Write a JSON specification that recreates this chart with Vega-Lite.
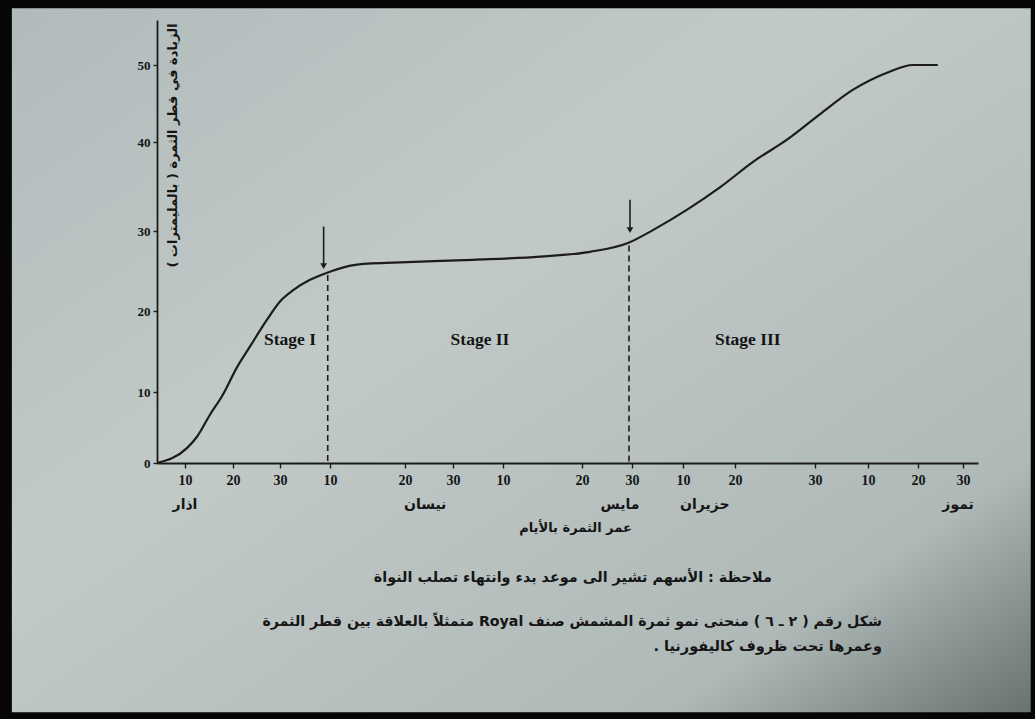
{
  "$schema": "https://vega.github.io/schema/vega-lite/v6.json",
  "width": 821,
  "height": 443,
  "autosize": {"type": "none"},
  "padding": {"left": 157, "top": 20, "right": 57, "bottom": 256},
  "background": "#060606",
  "view": {"stroke": null},
  "datasets": {
    "curve": [
      {"day": 4, "diameter": 0},
      {"day": 10.4, "diameter": 2.1},
      {"day": 12.5, "diameter": 3.7},
      {"day": 15.2, "diameter": 6.8},
      {"day": 17.7, "diameter": 9.4},
      {"day": 20.9, "diameter": 13.1},
      {"day": 23.6, "diameter": 15.6},
      {"day": 27.2, "diameter": 18.9},
      {"day": 30, "diameter": 21.2},
      {"day": 32.9, "diameter": 22.6},
      {"day": 36.6, "diameter": 23.9},
      {"day": 39.5, "diameter": 24.6},
      {"day": 44.6, "diameter": 25.8},
      {"day": 51.4, "diameter": 26.1},
      {"day": 65, "diameter": 26.4},
      {"day": 75.7, "diameter": 26.8},
      {"day": 82.6, "diameter": 27.4},
      {"day": 90.2, "diameter": 28.5},
      {"day": 95.5, "diameter": 30.1},
      {"day": 102.8, "diameter": 32.4},
      {"day": 109.1, "diameter": 34.9},
      {"day": 114.3, "diameter": 37.8},
      {"day": 118.5, "diameter": 40.3},
      {"day": 122.9, "diameter": 43.6},
      {"day": 129.2, "diameter": 46.8},
      {"day": 135.8, "diameter": 49.0},
      {"day": 141, "diameter": 50},
      {"day": 146.4, "diameter": 50}
    ],
    "boundaries": [
      {"day": 40.5, "top": 24.5},
      {"day": 90.4, "top": 28.2}
    ],
    "arrows": [
      {"day": 39.6, "from": 30.5, "to": 25.6},
      {"day": 90.6, "from": 33.5, "to": 30.1}
    ],
    "stages": [
      {"day": 32.2, "stage": "Stage I"},
      {"day": 66.4, "stage": "Stage II"},
      {"day": 113.6, "stage": "Stage III"}
    ],
    "months": [
      {"day": 10, "month": "اذار"},
      {"day": 55.2, "month": "نيسان"},
      {"day": 88.6, "month": "مايس"},
      {"day": 106.2, "month": "حزيران"},
      {"day": 150.9, "month": "تموز"}
    ]
  },
  "layer": [
    {
      "data": {"values": [{"sheet": "paper", "left": -27.1, "right": 166.9, "top": 57.3, "bottom": -35.1}]},
      "mark": {"type": "rect", "color": {
          "gradient": "linear",
          "x1": 0, "y1": 0, "x2": 1, "y2": 1,
          "stops": [
            {"offset": 0, "color": "#b1bbbb"},
            {"offset": 0.4, "color": "#c2cac8"},
            {"offset": 0.82, "color": "#afb9b8"},
            {"offset": 1, "color": "#68736f"}
          ]
        }},
      "encoding": {
        "x": {"field": "left", "type": "quantitative",
              "scale": {"domain": [4,10,20,30,41,51,61,71,81,91,102,112,122,132,142,152,155.3], "range": [0,28,76,123,173,248,296,346,425,475,526,578,658,711,761,806,821], "nice": false, "zero": false}},
        "x2": {"field": "right"},
        "y": {"field": "top", "type": "quantitative",
              "scale": {"domain": [0,10,20,30,40,50,55.8], "range": [443,372,291,211,122,45,0], "nice": false, "zero": false}},
        "y2": {"field": "bottom"}
      }
    },
    {
      "data": {"name": "boundaries"},
      "mark": {"type": "rule", "color": "#1c1c1c", "strokeWidth": 1.6, "strokeDash": [6, 4]},
      "encoding": {
        "x": {"field": "day", "type": "quantitative",
              "scale": {"domain": [4,10,20,30,41,51,61,71,81,91,102,112,122,132,142,152,155.3], "range": [0,28,76,123,173,248,296,346,425,475,526,578,658,711,761,806,821], "nice": false, "zero": false}},
        "y": {"field": "top", "type": "quantitative",
              "scale": {"domain": [0,10,20,30,40,50,55.8], "range": [443,372,291,211,122,45,0], "nice": false, "zero": false}},
        "y2": {"datum": 0}
      }
    },
    {
      "data": {"name": "arrows"},
      "mark": {"type": "rule", "color": "#1c1c1c", "strokeWidth": 1.6},
      "encoding": {
        "x": {"field": "day", "type": "quantitative",
              "scale": {"domain": [4,10,20,30,41,51,61,71,81,91,102,112,122,132,142,152,155.3], "range": [0,28,76,123,173,248,296,346,425,475,526,578,658,711,761,806,821], "nice": false, "zero": false}},
        "y": {"field": "from", "type": "quantitative",
              "scale": {"domain": [0,10,20,30,40,50,55.8], "range": [443,372,291,211,122,45,0], "nice": false, "zero": false}},
        "y2": {"field": "to"}
      }
    },
    {
      "data": {"name": "arrows"},
      "mark": {"type": "point", "shape": "triangle-down", "filled": true, "color": "#1c1c1c", "size": 45, "opacity": 1},
      "encoding": {
        "x": {"field": "day", "type": "quantitative",
              "scale": {"domain": [4,10,20,30,41,51,61,71,81,91,102,112,122,132,142,152,155.3], "range": [0,28,76,123,173,248,296,346,425,475,526,578,658,711,761,806,821], "nice": false, "zero": false}},
        "y": {"field": "to", "type": "quantitative",
              "scale": {"domain": [0,10,20,30,40,50,55.8], "range": [443,372,291,211,122,45,0], "nice": false, "zero": false}}
      }
    },
    {
      "data": {"name": "curve"},
      "mark": {"type": "line", "color": "#1c1c1c", "strokeWidth": 2.2, "interpolate": "monotone"},
      "encoding": {
        "x": {"field": "day", "type": "quantitative",
              "scale": {"domain": [4,10,20,30,41,51,61,71,81,91,102,112,122,132,142,152,155.3], "range": [0,28,76,123,173,248,296,346,425,475,526,578,658,711,761,806,821], "nice": false, "zero": false},
              "axis": {
                "zindex": 1,
                "values": [10,20,30,41,51,61,71,81,91,102,112,122,132,142,152],
                "labelExpr": "indexof([10,41,71,102,132], datum.value) >= 0 ? '10' : (indexof([20,51,81,112,142], datum.value) >= 0 ? '20' : '30')",
                "grid": false,
                "domainColor": "#1c1c1c", "domainWidth": 1.8,
                "tickColor": "#1c1c1c", "tickSize": 5, "tickWidth": 1.4,
                "labelFont": "Liberation Serif", "labelFontWeight": "bold", "labelFontSize": 14, "labelColor": "#151515",
                "labelPadding": 5,
                "title": "‫عمر الثمرة بالأيام‬",
                "titleFont": "DejaVu Sans", "titleFontWeight": "bold", "titleFontSize": 13, "titleColor": "#151515",
                "titleX": 418, "titleY": 64, "titleBaseline": "middle", "titleAlign": "center"
              }},
        "y": {"field": "diameter", "type": "quantitative",
              "scale": {"domain": [0,10,20,30,40,50,55.8], "range": [443,372,291,211,122,45,0], "nice": false, "zero": false},
              "axis": {
                "zindex": 1,
                "values": [0,10,20,30,40,50],
                "grid": false,
                "domainColor": "#1c1c1c", "domainWidth": 1.8,
                "tickColor": "#1c1c1c", "tickSize": 4, "tickWidth": 1.4,
                "labelFont": "Liberation Serif", "labelFontWeight": "bold", "labelFontSize": 13, "labelColor": "#151515",
                "labelPadding": 3,
                "title": "‫الزيادة في قطر الثمرة ( بالمليمترات )‬",
                "titleFont": "DejaVu Sans", "titleFontWeight": "bold", "titleFontSize": 13, "titleColor": "#151515",
                "titleAngle": 270, "titleX": 15, "titleY": 125, "titleBaseline": "middle", "titleAlign": "center"
              }}
      }
    },
    {
      "data": {"name": "stages"},
      "mark": {"type": "text", "font": "Liberation Serif", "fontWeight": "bold", "fontSize": 17.5, "color": "#151515", "align": "center", "baseline": "middle"},
      "encoding": {
        "x": {"field": "day", "type": "quantitative",
              "scale": {"domain": [4,10,20,30,41,51,61,71,81,91,102,112,122,132,142,152,155.3], "range": [0,28,76,123,173,248,296,346,425,475,526,578,658,711,761,806,821], "nice": false, "zero": false}},
        "y": {"datum": 16.4, "type": "quantitative",
              "scale": {"domain": [0,10,20,30,40,50,55.8], "range": [443,372,291,211,122,45,0], "nice": false, "zero": false}},
        "text": {"field": "stage"}
      }
    },
    {
      "data": {"name": "months"},
      "mark": {"type": "text", "font": "DejaVu Sans", "fontWeight": "bold", "fontSize": 14, "color": "#151515", "align": "center", "baseline": "middle"},
      "encoding": {
        "x": {"field": "day", "type": "quantitative",
              "scale": {"domain": [4,10,20,30,41,51,61,71,81,91,102,112,122,132,142,152,155.3], "range": [0,28,76,123,173,248,296,346,425,475,526,578,658,711,761,806,821], "nice": false, "zero": false}},
        "y": {"datum": -5.9, "type": "quantitative",
              "scale": {"domain": [0,10,20,30,40,50,55.8], "range": [443,372,291,211,122,45,0], "nice": false, "zero": false}},
        "text": {"field": "month"}
      }
    },
    {
      "data": {"values": [{"note": "‫ملاحظة : الأسهم تشير الى موعد بدء وانتهاء تصلب النواة‬"}]},
      "mark": {"type": "text", "font": "DejaVu Sans", "fontWeight": "bold", "fontSize": 14.4, "color": "#151515", "align": "right", "baseline": "middle"},
      "encoding": {
        "x": {"datum": 116.6, "type": "quantitative",
              "scale": {"domain": [4,10,20,30,41,51,61,71,81,91,102,112,122,132,142,152,155.3], "range": [0,28,76,123,173,248,296,346,425,475,526,578,658,711,761,806,821], "nice": false, "zero": false}},
        "y": {"datum": -16.2, "type": "quantitative",
              "scale": {"domain": [0,10,20,30,40,50,55.8], "range": [443,372,291,211,122,45,0], "nice": false, "zero": false}},
        "text": {"field": "note"}
      }
    },
    {
      "data": {"values": [{"caption": "‫شكل رقم ( ٢ ـ ٦ ) منحنى نمو ثمرة المشمش صنف Royal متمثلاً بالعلاقة بين قطر الثمرة‬"}]},
      "mark": {"type": "text", "font": "DejaVu Sans", "fontWeight": "bold", "fontSize": 14.2, "color": "#151515", "align": "right", "baseline": "middle"},
      "encoding": {
        "x": {"datum": 134.8, "type": "quantitative",
              "scale": {"domain": [4,10,20,30,41,51,61,71,81,91,102,112,122,132,142,152,155.3], "range": [0,28,76,123,173,248,296,346,425,475,526,578,658,711,761,806,821], "nice": false, "zero": false}},
        "y": {"datum": -22.4, "type": "quantitative",
              "scale": {"domain": [0,10,20,30,40,50,55.8], "range": [443,372,291,211,122,45,0], "nice": false, "zero": false}},
        "text": {"field": "caption"}
      }
    },
    {
      "data": {"values": [{"caption": "‫وعمرها تحت ظروف كاليفورنيا .‬"}]},
      "mark": {"type": "text", "font": "DejaVu Sans", "fontWeight": "bold", "fontSize": 14.5, "color": "#151515", "align": "right", "baseline": "middle"},
      "encoding": {
        "x": {"datum": 134.8, "type": "quantitative",
              "scale": {"domain": [4,10,20,30,41,51,61,71,81,91,102,112,122,132,142,152,155.3], "range": [0,28,76,123,173,248,296,346,425,475,526,578,658,711,761,806,821], "nice": false, "zero": false}},
        "y": {"datum": -25.9, "type": "quantitative",
              "scale": {"domain": [0,10,20,30,40,50,55.8], "range": [443,372,291,211,122,45,0], "nice": false, "zero": false}},
        "text": {"field": "caption"}
      }
    }
  ]
}
